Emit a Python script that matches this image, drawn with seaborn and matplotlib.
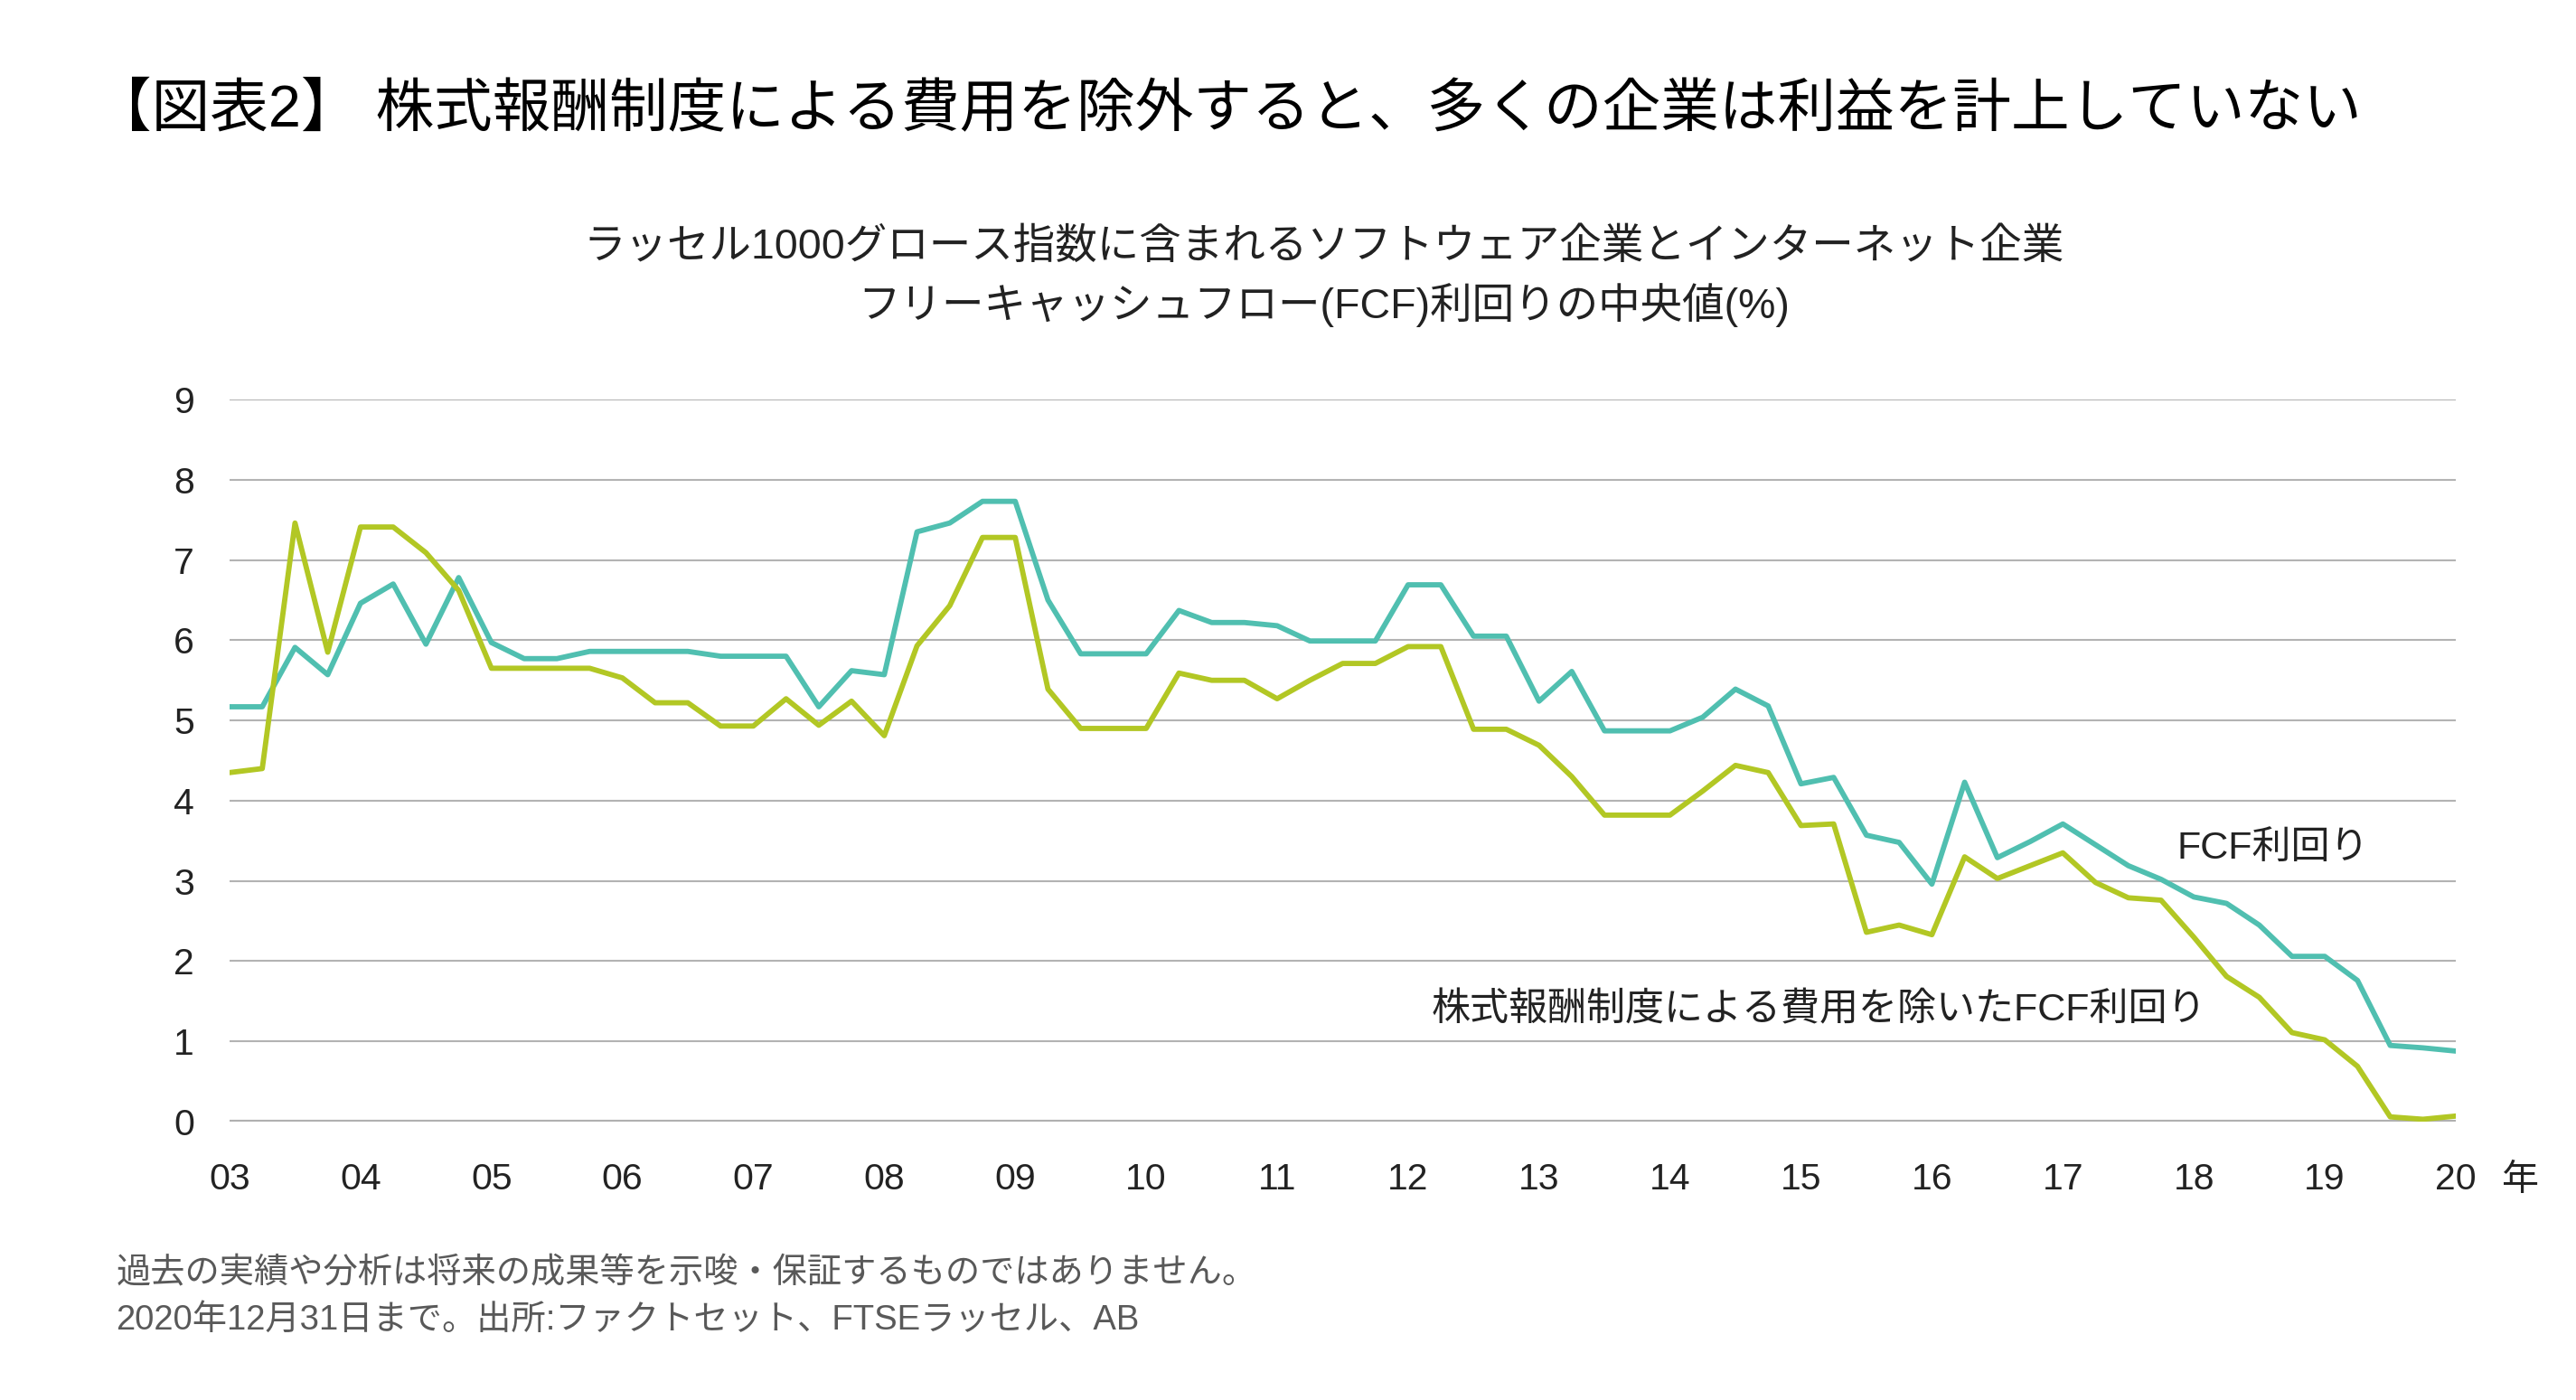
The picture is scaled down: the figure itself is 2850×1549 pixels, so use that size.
import matplotlib.pyplot as plt
import seaborn as sns
import pandas as pd
import numpy as np

# quarterly, 2003Q1 .. 2020Q1
quarters = pd.period_range("2003Q1", "2020Q1", freq="Q")

# FCF yield (teal)
fcf = [5.17, 5.17, 5.91, 5.57, 6.46, 6.70, 5.95, 6.78,
       5.97, 5.77, 5.77, 5.86, 5.86, 5.86, 5.86, 5.80,
       5.80, 5.80, 5.17, 5.62, 5.57, 7.35, 7.46, 7.73,
       7.73, 6.50, 5.83, 5.83, 5.83, 6.37, 6.22, 6.22,
       6.18, 5.99, 5.99, 5.99, 6.69, 6.69, 6.05, 6.05,
       5.24, 5.61, 4.87, 4.87, 4.87, 5.04, 5.39, 5.18,
       4.21, 4.29, 3.57, 3.48, 2.96, 4.23, 3.29, 3.49,
       3.71, 3.45, 3.19, 3.02, 2.80, 2.72, 2.45, 2.06,
       2.06, 1.76, 0.95, 0.92, 0.88]

# FCF yield excluding stock-based compensation (green)
fcf_ex_sbc = [4.35, 4.40, 7.46, 5.85, 7.41, 7.41, 7.09, 6.62,
              5.65, 5.65, 5.65, 5.65, 5.53, 5.22, 5.22, 4.93,
              4.93, 5.27, 4.94, 5.24, 4.81, 5.93, 6.43, 7.28,
              7.28, 5.39, 4.90, 4.90, 4.90, 5.59, 5.50, 5.50,
              5.27, 5.50, 5.71, 5.71, 5.92, 5.92, 4.89, 4.89,
              4.69, 4.30, 3.82, 3.82, 3.82, 4.12, 4.44, 4.35,
              3.69, 3.71, 2.36, 2.45, 2.33, 3.30, 3.03, 3.19,
              3.35, 2.98, 2.79, 2.76, 2.30, 1.81, 1.55, 1.11,
              1.02, 0.69, 0.06, 0.03, 0.07]

year_ticks = list(range(2003, 2021))
year_labels = ["03", "04", "05", "06", "07", "08", "09", "10", "11",
               "12", "13", "14", "15", "16", "17", "18", "19", "20"]
y_ticks = list(range(0, 10))

title = "【図表2】 株式報酬制度による費用を除外すると、多くの企業は利益を計上していない"
subtitle1 = "ラッセル1000グロース指数に含まれるソフトウェア企業とインターネット企業"
subtitle2 = "フリーキャッシュフロー(FCF)利回りの中央値(%)"
label_fcf = "FCF利回り"
label_ex = "株式報酬制度による費用を除いたFCF利回り"
note1 = "過去の実績や分析は将来の成果等を示唆・保証するものではありません。"
note2 = "2020年12月31日まで。出所:ファクトセット、FTSEラッセル、AB"

teal = "#50BFB0"
green = "#B2C724"

sns.set_theme(style="white")
plt.rcParams["font.family"] = ["Liberation Sans", "Noto Sans CJK JP", "DejaVu Sans"]

x = quarters.year + (quarters.quarter - 1) / 4.0
df = pd.DataFrame({"x": list(x) * 2,
                   "y": fcf + fcf_ex_sbc,
                   "series": [label_fcf] * len(fcf) + [label_ex] * len(fcf_ex_sbc)})

fig = plt.figure(figsize=(28.5, 15.49), dpi=100)
ax = fig.add_axes([0.0891, 0.1988, 0.8642, 0.5159])

for yv in y_ticks[1:]:
    ax.axhline(yv, color="#B3B3B3", lw=1.5, zorder=0)
ax.axhline(0, color="#B0B0B0", lw=3.0, zorder=1)

sns.lineplot(data=df, x="x", y="y", hue="series", palette=[teal, green],
             linewidth=4.2, legend=False, ax=ax, zorder=3)

ax.set_xlim(2003, 2020)
ax.set_ylim(0, 9)
ax.set_xticks(year_ticks)
ax.set_xticklabels(year_labels)
ax.set_yticks(y_ticks)
ax.tick_params(axis="both", length=0, labelsize=29.5, colors="#222222")
ax.tick_params(axis="y", pad=28)
ax.tick_params(axis="x", pad=32)
ax.set_xlabel("")
ax.set_ylabel("")
for s in ax.spines.values():
    s.set_visible(False)

ax.text(2020.35, -0.73, "年", fontsize=29.5, color="#222222", va="center", ha="left")

ax.text(2017.87, 3.40, label_fcf, fontsize=31, color="#222222", va="center", ha="left")
ax.text(2012.18, 1.38, label_ex, fontsize=31, color="#222222", va="center", ha="left")

fig.text(0.036, 0.921, title, fontsize=46.5, color="#000000", va="center", ha="left")
fig.text(0.514, 0.823, subtitle1, fontsize=33.5, color="#222222", va="center", ha="center")
fig.text(0.514, 0.782, subtitle2, fontsize=33.5, color="#222222", va="center", ha="center")

fig.text(0.045, 0.090, note1, fontsize=27.5, color="#595959", va="center", ha="left")
fig.text(0.045, 0.057, note2, fontsize=27.5, color="#595959", va="center", ha="left")

fig.savefig("out.png", dpi=100, facecolor="white")
